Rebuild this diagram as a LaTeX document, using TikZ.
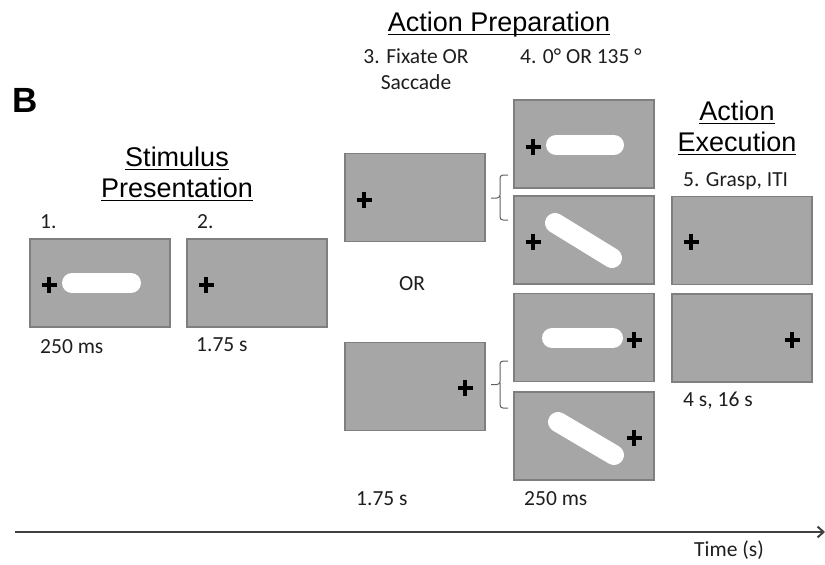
\documentclass[tikz,border=0pt]{standalone}
\usepackage{fontspec}
\setmainfont{Carlito}
\newfontfamily\headfont{Liberation Sans}
\usetikzlibrary{arrows.meta}
\definecolor{panelgray}{HTML}{A6A6A6}
\definecolor{paneledge}{HTML}{7F7F7F}
\definecolor{inkc}{HTML}{1E1E1E}
\tikzset{
  panel/.style={draw=paneledge, line width=1.2pt, fill=panelgray, minimum width=140pt, minimum height=88pt, inner sep=0pt},
  head/.style={inner sep=0pt, anchor=base, font=\headfont\fontsize{27}{32}\selectfont, text=black},
  lab/.style={inner sep=0pt, anchor=base west, font=\fontsize{21.5}{26}\selectfont, text=inkc},
  uline/.style={line width=1.5pt, black},
  bar/.style={white, line width=20pt, line cap=round},
  bracec/.style={draw=inkc!70, line width=1pt, rounded corners=3pt},
  fixcross/.pic={\draw[line width=3.4pt, black] (-7.5,0) -- (7.5,0) (0,-8) -- (0,8);}
}
\begin{document}
\begin{tikzpicture}[x=1pt,y=-1pt]
\useasboundingbox (0,0) rectangle (825,565);
% label B
\node[inner sep=0pt, anchor=base west, font=\headfont\bfseries\fontsize{35}{40}\selectfont] (lb) at (12,112) {B};
% headings
\node[head] (hs1) at (177,166) {Stimulus};
\node[head] (hs2) at (177,197) {Presentation};
\node[head] (ha) at (499,31) {Action Preparation};
\node[head] (he1) at (737,120) {Action};
\node[head] (he2) at (737,151) {Execution};
\foreach \n in {hs1,hs2,ha,he1,he2}{
  \draw[uline] ([yshift=-3.5pt]\n.base west) -- ([yshift=-3.5pt]\n.base east);
}
% step labels
\node[lab] (l1) at (40,228) {1.};
\node[lab] (l2) at (197,228) {2.};
\node[inner sep=0pt, align=center, font=\fontsize{21.5}{26}\selectfont, text=inkc, anchor=base] (l3) at (416,89) {3. Fixate OR\\Saccade};
\node[lab] (l4) at (520,63) {4. 0° OR 135 °};
\node[lab] (l5) at (683,186) {5. Grasp, ITI};
% panels
\node[panel] (p1) at (100,283) {};
\node[panel] (p2) at (257,283) {};
\node[panel] (p3a) at (415,197.5) {};
\node[panel] (p3b) at (415,386.5) {};
\node[panel] (p4a) at (584,144) {};
\node[panel] (p4b) at (584,240) {};
\node[panel] (p4c) at (584,337.5) {};
\node[panel] (p4d) at (584,436) {};
\node[panel] (p5a) at (742,240.5) {};
\node[panel] (p5b) at (742,338) {};
% stimulus bars
\draw[bar] (72,283) -- (131,283);
\draw[bar] (556,145) -- (614,145);
\draw[bar] (555,223) -- (612,258);
\draw[bar] (552,338) -- (613,338);
\draw[bar] (558,422) -- (614,455);
% fixation crosses
\pic at (49,285) {fixcross};
\pic at (206,285) {fixcross};
\pic at (364,200) {fixcross};
\pic at (465,388) {fixcross};
\pic at (533,147) {fixcross};
\pic at (533,242) {fixcross};
\pic at (634,340) {fixcross};
\pic at (634,438) {fixcross};
\pic at (691,242) {fixcross};
\pic at (792,340) {fixcross};
% braces
\coordinate (b1t) at (508,175);
\coordinate (b1m) at (491,198);
\coordinate (b1b) at (508,220);
\draw[bracec] (b1t) -- (500,175) -- (500,198) -- (b1m);
\draw[bracec] (500,196) -- (500,220) -- (b1b);
\coordinate (b2t) at (508,361);
\coordinate (b2m) at (491,384.5);
\coordinate (b2b) at (508,408);
\draw[bracec] (b2t) -- (500,361) -- (500,384.5) -- (b2m);
\draw[bracec] (500,382.5) -- (500,408) -- (b2b);
% OR and timing labels
\node[inner sep=0pt, anchor=base, font=\fontsize{21.5}{26}\selectfont, text=inkc] (lor) at (412,290) {OR};
\node[lab] (t1) at (40,353) {250 ms};
\node[lab] (t2) at (196,351) {1.75 s};
\node[lab] (t3) at (356,505) {1.75 s};
\node[lab] (t4) at (524,505) {250 ms};
\node[lab] (t5) at (683,406) {4 s, 16 s};
% time axis
\coordinate (ax0) at (15,532);
\coordinate (ax1) at (825,532);
\draw[line width=2pt, draw=inkc!85, -{Straight Barb[length=6pt,width=11pt]}] (ax0) -- (ax1);
\node[lab] (tt) at (694,556) {Time (s)};
\end{tikzpicture}
\end{document}
